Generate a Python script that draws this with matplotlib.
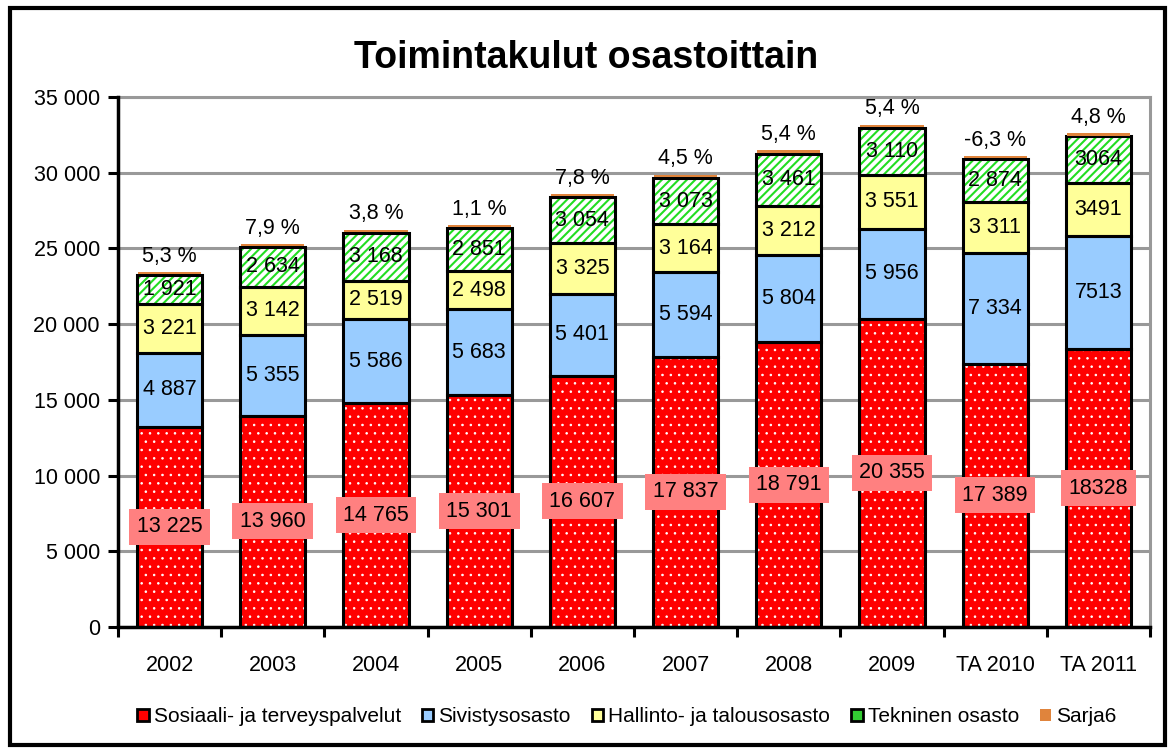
import matplotlib
matplotlib.use("Agg")
import matplotlib.pyplot as plt
import matplotlib.patches as patches
import numpy as np

plt.rcParams['font.family'] = ['Liberation Sans', 'DejaVu Sans']

years = ["2002", "2003", "2004", "2005", "2006", "2007", "2008", "2009", "TA 2010", "TA 2011"]
sosiaali = [13225, 13960, 14765, 15301, 16607, 17837, 18791, 20355, 17389, 18328]
sivistys = [4887, 5355, 5586, 5683, 5401, 5594, 5804, 5956, 7334, 7513]
hallinto = [3221, 3142, 2519, 2498, 3325, 3164, 3212, 3551, 3311, 3491]
tekninen = [1921, 2634, 3168, 2851, 3054, 3073, 3461, 3110, 2874, 3064]
sarja6 = [150, 150, 150, 150, 150, 150, 150, 150, 150, 150]
muutos = [5.3, 7.9, 3.8, 1.1, 7.8, 4.5, 5.4, 5.4, -6.3, 4.8]

names = ["Sosiaali- ja terveyspalvelut", "Sivistysosasto", "Hallinto- ja talousosasto",
         "Tekninen osasto", "Sarja6"]

FS = 15.5


def fmt(v, spaced=True):
    s = "{:,}".format(int(v))
    return s.replace(",", " " if spaced else "")


fig = plt.figure(figsize=(11.72, 7.53), dpi=100)
ax = fig.add_axes([118 / 1172, 1 - 627 / 753, (1150 - 118) / 1172, (627 - 97) / 753])

x = np.arange(len(years))
w = 0.63
series = [sosiaali, sivistys, hallinto, tekninen]
bottom = np.zeros(len(years))

# fills
red = ax.bar(x, sosiaali, w, bottom=bottom, color="#ff0000", edgecolor="white",
             linewidth=0, hatch="..", zorder=3)
for p in red:
    if hasattr(p, "set_hatch_linewidth"):
        p.set_hatch_linewidth(0.6)
bottom += sosiaali
ax.bar(x, sivistys, w, bottom=bottom, color="#99ccff", linewidth=0, zorder=3)
bottom += sivistys
ax.bar(x, hallinto, w, bottom=bottom, color="#ffff99", linewidth=0, zorder=3)
bottom += hallinto
green = ax.bar(x, tekninen, w, bottom=bottom, color="white", edgecolor="#22dd22",
               linewidth=0, hatch="////", zorder=3)
for p in green:
    if hasattr(p, "set_hatch_linewidth"):
        p.set_hatch_linewidth(1.5)
bottom += tekninen

# outlines
bottom = np.zeros(len(years))
for s in series:
    ax.bar(x, s, w, bottom=bottom, fill=False, edgecolor="black", linewidth=2.2, zorder=4)
    bottom += s
ax.bar(x, sarja6, w * 0.97, bottom=bottom + 60, color="#e0843c", linewidth=0, zorder=5)
total = bottom + np.array(sarja6)

# value labels
for i in range(len(years)):
    spaced = years[i] != "TA 2011"
    ax.text(x[i], sosiaali[i] / 2, fmt(sosiaali[i], spaced), ha="center", va="center",
            fontsize=FS, zorder=6,
            bbox=dict(boxstyle="square,pad=0.35", fc="#ff8080", ec="none"))
    b = sosiaali[i]
    for s in [sivistys, hallinto, tekninen]:
        ax.text(x[i], b + s[i] / 2, fmt(s[i], spaced), ha="center", va="center",
                fontsize=FS, zorder=6)
        b += s[i]
    ax.text(x[i], total[i] + 400, ("%.1f %%" % muutos[i]).replace(".", ","),
            ha="center", va="bottom", fontsize=FS, zorder=6)

ax.set_ylim(0, 35000)
ax.set_xlim(-0.5, len(years) - 0.5)
yt = np.arange(0, 35001, 5000)
ax.set_yticks(yt)
ax.set_yticklabels([fmt(v) for v in yt], fontsize=FS)
ax.set_xticks(x)
ax.set_xticklabels(years, fontsize=FS)
ax.set_xticks(np.arange(-0.5, len(years), 1), minor=True)
ax.tick_params(axis="x", which="major", length=0, pad=20)
ax.tick_params(axis="x", which="minor", length=7, width=2.2, direction="out")
ax.tick_params(axis="y", length=7, width=2.2, direction="out", pad=6)
ax.yaxis.grid(True, color="#999999", linewidth=2.2, zorder=0)
ax.set_axisbelow(True)
for sp in ["left", "bottom"]:
    ax.spines[sp].set_linewidth(2.5)
    ax.spines[sp].set_zorder(5)
ax.spines["right"].set_color("#999999")
ax.spines["right"].set_linewidth(2.2)
ax.spines["top"].set_color("#999999")
ax.spines["top"].set_linewidth(2.2)

fig.text(0.5, 1 - 58 / 753, "Toimintakulut osastoittain", ha="center", va="center",
         fontsize=27, fontweight="bold")

handles = [
    patches.Patch(facecolor="#ff0000", edgecolor="black", linewidth=2),
    patches.Patch(facecolor="#99ccff", edgecolor="black", linewidth=2),
    patches.Patch(facecolor="#ffff99", edgecolor="black", linewidth=2),
    patches.Patch(facecolor="#33cc33", edgecolor="black", linewidth=2),
    patches.Patch(facecolor="#e0843c", edgecolor="none"),
]
fig.legend(handles, names, loc="center", bbox_to_anchor=(0.535, 1 - 717 / 753), ncol=5,
           frameon=False, fontsize=15, handlelength=0.55, handleheight=0.55,
           handletextpad=0.25, columnspacing=1.0)

fig.patches.append(patches.Rectangle((10 / 1172, 8 / 753), 1155 / 1172, 737 / 753,
                                     transform=fig.transFigure, fill=False,
                                     edgecolor="black", linewidth=3))

fig.savefig("out.png", dpi=100)
